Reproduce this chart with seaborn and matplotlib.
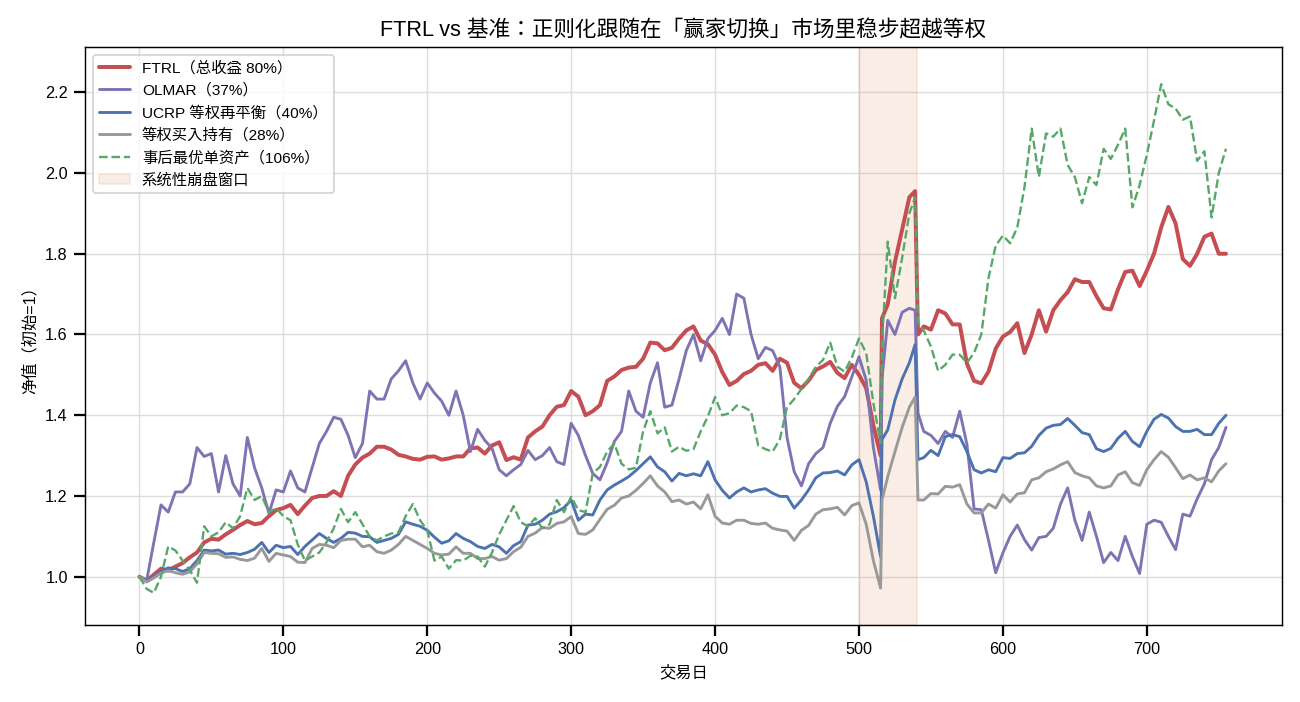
import matplotlib
matplotlib.use("Agg")
import matplotlib.pyplot as plt
import seaborn as sns

# trading days sampled from the chart (extra points around the crash window)
days = list(range(0, 516, 5)) + [516, 520, 525, 530, 535, 539, 541] + list(range(545, 756, 5))

ftrl = [
    1.0, 0.99, 1.005, 1.02, 1.015, 1.025, 1.034, 1.048, 1.06, 1.085, 1.094, 1.092, 1.105, 1.116, 1.128, 1.138, 1.13, 1.133, 1.15, 1.165,
    1.17, 1.178, 1.155, 1.176, 1.195, 1.2, 1.2, 1.212, 1.2, 1.25, 1.278, 1.295, 1.305, 1.322, 1.322, 1.315, 1.302, 1.298, 1.292, 1.29,
    1.297, 1.298, 1.29, 1.293, 1.298, 1.298, 1.318, 1.32, 1.305, 1.325, 1.333, 1.289, 1.296, 1.29, 1.345, 1.36, 1.372, 1.4, 1.421, 1.425,
    1.46, 1.446, 1.40, 1.41, 1.425, 1.485, 1.496, 1.512, 1.518, 1.52, 1.54, 1.58, 1.578, 1.561, 1.567, 1.59, 1.61, 1.62, 1.585, 1.576,
    1.55, 1.507, 1.475, 1.485, 1.502, 1.51, 1.525, 1.529, 1.51, 1.54, 1.53, 1.48, 1.467, 1.486, 1.512, 1.521, 1.532, 1.505, 1.492, 1.525,
    1.50, 1.467, 1.375, 1.30,
    1.64,
    1.675, 1.78, 1.86, 1.94,
    1.955, 1.60,
    1.62, 1.612, 1.66, 1.652, 1.625, 1.625, 1.528, 1.485, 1.479, 1.508, 1.565,
    1.595, 1.606, 1.628, 1.554, 1.60, 1.66, 1.607, 1.66, 1.685, 1.705, 1.737, 1.73, 1.73, 1.695, 1.665, 1.662, 1.712, 1.755, 1.758, 1.72,
    1.758, 1.8, 1.865, 1.916, 1.875, 1.787, 1.77, 1.80, 1.842, 1.85, 1.80, 1.80,
]

olmar = [
    1.0, 0.99, 1.085, 1.178, 1.16, 1.21, 1.21, 1.23, 1.32, 1.298, 1.305, 1.21, 1.30, 1.23, 1.2, 1.345, 1.27, 1.22, 1.157, 1.215,
    1.21, 1.262, 1.22, 1.21, 1.27, 1.33, 1.36, 1.395, 1.39, 1.35, 1.295, 1.33, 1.46, 1.44, 1.44, 1.49, 1.51, 1.535, 1.48, 1.44,
    1.48, 1.455, 1.435, 1.40, 1.46, 1.40, 1.31, 1.365, 1.338, 1.318, 1.265, 1.25, 1.265, 1.278, 1.313, 1.29, 1.30, 1.32, 1.285, 1.278,
    1.38, 1.35, 1.30, 1.256, 1.24, 1.282, 1.335, 1.36, 1.46, 1.41, 1.395, 1.48, 1.53, 1.42, 1.425, 1.49, 1.56, 1.60, 1.535, 1.59,
    1.61, 1.64, 1.60, 1.70, 1.69, 1.60, 1.54, 1.568, 1.56, 1.52, 1.345, 1.26, 1.225, 1.28, 1.305, 1.32, 1.38, 1.422, 1.446, 1.495,
    1.545, 1.487, 1.32, 1.215,
    1.49,
    1.635, 1.60, 1.655, 1.665,
    1.66, 1.405,
    1.36, 1.35, 1.33, 1.36, 1.345, 1.41, 1.328, 1.168, 1.166, 1.09, 1.01,
    1.059, 1.10, 1.128, 1.092, 1.066, 1.097, 1.10, 1.12, 1.18, 1.22, 1.14, 1.09, 1.16, 1.10, 1.035, 1.06, 1.04, 1.10, 1.05, 1.008,
    1.13, 1.14, 1.135, 1.10, 1.067, 1.155, 1.15, 1.193, 1.23, 1.29, 1.32, 1.37,
]

ucrp = [
    1.0, 0.99, 1.0, 1.013, 1.022, 1.02, 1.013, 1.02, 1.04, 1.066, 1.064, 1.066, 1.056, 1.058, 1.055, 1.06, 1.068, 1.085, 1.06, 1.078,
    1.072, 1.075, 1.055, 1.075, 1.091, 1.107, 1.095, 1.085, 1.095, 1.11, 1.108, 1.10, 1.099, 1.085, 1.09, 1.095, 1.105, 1.136, 1.13, 1.125,
    1.115, 1.098, 1.083, 1.089, 1.107, 1.095, 1.087, 1.075, 1.07, 1.08, 1.074, 1.058, 1.077, 1.087, 1.128, 1.13, 1.14, 1.155, 1.161, 1.171,
    1.19, 1.14, 1.155, 1.153, 1.19, 1.215, 1.227, 1.237, 1.248, 1.263, 1.28, 1.297, 1.272, 1.26, 1.237, 1.256, 1.25, 1.255, 1.25, 1.285,
    1.24, 1.214, 1.195, 1.21, 1.22, 1.21, 1.215, 1.218, 1.207, 1.199, 1.199, 1.17, 1.19, 1.215, 1.245, 1.257, 1.258, 1.262, 1.252, 1.277,
    1.29, 1.235, 1.15, 1.05,
    1.34,
    1.364, 1.438, 1.49, 1.53,
    1.575, 1.29,
    1.295, 1.313, 1.30, 1.347, 1.352, 1.347, 1.31, 1.265, 1.257, 1.265, 1.26,
    1.295, 1.293, 1.305, 1.307, 1.323, 1.35, 1.368, 1.375, 1.377, 1.392, 1.375, 1.357, 1.352, 1.317, 1.31, 1.318, 1.343, 1.36, 1.335, 1.322,
    1.36, 1.39, 1.402, 1.393, 1.372, 1.36, 1.36, 1.365, 1.352, 1.352, 1.38, 1.40,
]

buy_hold = [
    1.0, 0.987, 0.997, 1.009, 1.015, 1.01, 1.006, 1.012, 1.032, 1.06, 1.058, 1.057, 1.048, 1.049, 1.043, 1.04, 1.046, 1.07, 1.038, 1.058,
    1.054, 1.05, 1.036, 1.035, 1.07, 1.08, 1.078, 1.072, 1.09, 1.093, 1.093, 1.074, 1.078, 1.062, 1.058, 1.066, 1.08, 1.1, 1.09, 1.08,
    1.07, 1.058, 1.054, 1.056, 1.074, 1.058, 1.058, 1.045, 1.045, 1.05, 1.041, 1.045, 1.062, 1.073, 1.1, 1.108, 1.122, 1.12, 1.132, 1.136,
    1.149, 1.107, 1.105, 1.116, 1.142, 1.167, 1.177, 1.195, 1.2, 1.214, 1.231, 1.25, 1.225, 1.21, 1.186, 1.19, 1.18, 1.185, 1.168, 1.203,
    1.15, 1.133, 1.13, 1.14, 1.14, 1.132, 1.13, 1.133, 1.12, 1.116, 1.113, 1.09, 1.115, 1.127, 1.155, 1.166, 1.168, 1.172, 1.153, 1.176,
    1.183, 1.13, 1.04, 0.972,
    1.19,
    1.248, 1.31, 1.37, 1.42,
    1.445, 1.19,
    1.19, 1.206, 1.205, 1.224, 1.222, 1.228, 1.18, 1.158, 1.158, 1.18, 1.17,
    1.203, 1.185, 1.205, 1.208, 1.24, 1.245, 1.26, 1.267, 1.277, 1.285, 1.258, 1.25, 1.245, 1.225, 1.22, 1.225, 1.252, 1.26, 1.233, 1.226,
    1.265, 1.29, 1.31, 1.296, 1.27, 1.243, 1.252, 1.24, 1.245, 1.235, 1.262, 1.28,
]

best_asset = [
    1.0, 0.97, 0.96, 1.0, 1.075, 1.065, 1.04, 1.017, 0.985, 1.125, 1.1, 1.11, 1.135, 1.12, 1.15, 1.22, 1.19, 1.2, 1.16, 1.17,
    1.15, 1.14, 1.08, 1.04, 1.05, 1.06, 1.085, 1.12, 1.168, 1.135, 1.16, 1.13, 1.1, 1.09, 1.1, 1.107, 1.11, 1.15, 1.18, 1.14,
    1.115, 1.04, 1.05, 1.02, 1.041, 1.04, 1.052, 1.05, 1.025, 1.06, 1.105, 1.14, 1.175, 1.135, 1.125, 1.145, 1.12, 1.13, 1.19, 1.16,
    1.198, 1.165, 1.16, 1.256, 1.272, 1.31, 1.33, 1.28, 1.266, 1.27, 1.36, 1.41, 1.355, 1.37, 1.31, 1.322, 1.312, 1.316, 1.36, 1.397,
    1.445, 1.40, 1.405, 1.424, 1.42, 1.41, 1.325, 1.316, 1.31, 1.34, 1.42, 1.44, 1.465, 1.49, 1.52, 1.537, 1.58, 1.52, 1.508, 1.543,
    1.59, 1.554, 1.43, 1.33,
    1.58,
    1.83, 1.69, 1.79, 1.90,
    1.94, 1.63,
    1.61, 1.57, 1.51, 1.525, 1.55, 1.55, 1.53, 1.555, 1.6, 1.74, 1.82,
    1.845, 1.826, 1.865, 1.965, 2.11, 1.99, 2.098, 2.09, 2.11, 2.02, 1.99, 1.925, 1.99, 1.97, 2.06, 2.035, 2.07, 2.11, 1.915, 1.97,
    2.045, 2.13, 2.22, 2.17, 2.16, 2.132, 2.14, 2.03, 2.054, 1.89, 2.0, 2.06,
]

crash_window = (500, 540)

series = [
    ("FTRL（总收益 80%）", ftrl, "#C44E52", 2.2, "-"),
    ("OLMAR（37%）", olmar, "#8172B3", 1.6, "-"),
    ("UCRP 等权再平衡（40%）", ucrp, "#4C72B0", 1.6, "-"),
    ("等权买入持有（28%）", buy_hold, "#999999", 1.6, "-"),
    ("事后最优单资产（106%）", best_asset, "#55A868", 1.3, "--"),
]

sns.set_theme(style="ticks")
plt.rcParams['font.family'] = ['Liberation Sans', 'Noto Sans CJK KR']
plt.rcParams['axes.unicode_minus'] = False
plt.rcParams.update({"text.color": "black", "axes.labelcolor": "black",
                     "xtick.color": "black", "ytick.color": "black"})

fig, ax = plt.subplots(figsize=(10, 5.4), dpi=130)
fig.subplots_adjust(left=0.0654, right=0.986, bottom=0.11, top=0.933)

for name, vals, color, lw, ls in series:
    sns.lineplot(x=days, y=vals, ax=ax, color=color, linewidth=lw, linestyle=ls, label=name)

ax.axvspan(crash_window[0], crash_window[1], color="#DD8452", alpha=0.14, label="系统性崩盘窗口")

ax.set_xlim(-37.8, 793.8)
ax.set_ylim(0.881, 2.312)
ax.grid(True, color="#dddddd", linewidth=0.8)
for sp in ax.spines.values():
    sp.set_color("black")
    sp.set_linewidth(0.8)
ax.tick_params(labelsize=9)

ax.set_title("FTRL vs 基准：正则化跟随在「赢家切换」市场里稳步超越等权", fontsize=12)
ax.set_xlabel("交易日", fontsize=9)
ax.set_ylabel("净值（初始=1）", fontsize=9)
ax.legend(loc="upper left", fontsize=8.5)

fig.savefig("out.png", dpi=130)
